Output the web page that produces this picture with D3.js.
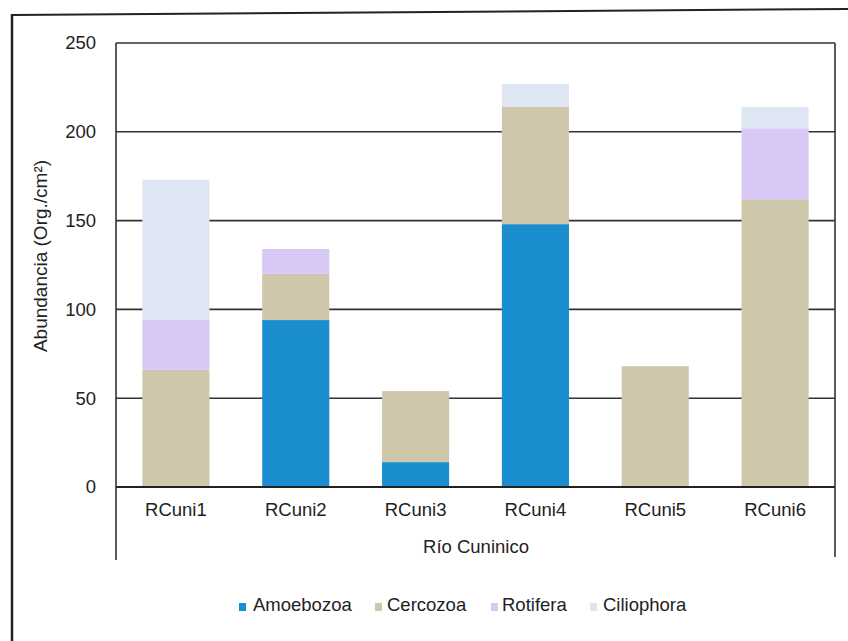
<!DOCTYPE html>
<html>
<head>
<meta charset="utf-8">
<script src="https://cdn.jsdelivr.net/npm/d3@7"></script>
<style>
  html, body { margin: 0; padding: 0; background: #fff; }
  svg { display: block; }
  text { font-family: "Liberation Sans", Arial, sans-serif; fill: #222; }
</style>
</head>
<body>
<svg id="chart" width="848" height="641"></svg>
<script>
// Sampling sites along the Cuninico river
const sites = ["RCuni1", "RCuni2", "RCuni3", "RCuni4", "RCuni5", "RCuni6"];
// Abundance per group (Org./cm²), stacked bottom to top
const groups = ["Amoebozoa", "Cercozoa", "Rotifera", "Ciliophora"];
const amoebozoa  = [0, 94, 14, 148, 0, 0];
const cercozoa   = [66, 26, 40, 66, 68, 162];
const rotifera   = [28, 14, 0, 0, 0, 40];
const ciliophora = [79, 0, 0, 13, 0, 12];
const yTicks = [0, 50, 100, 150, 200, 250];
const colors = ["#1a8ecf", "#cec7ab", "#d8c8f5", "#dee6f4"];

const rows = sites.map((s, i) => ({
  site: s,
  Amoebozoa: amoebozoa[i],
  Cercozoa: cercozoa[i],
  Rotifera: rotifera[i],
  Ciliophora: ciliophora[i]
}));

const svg = d3.select("#chart");
const m = { left: 116, top: 43, right: 835, bottom: 487 };
const FONT = "18.5px";

const x = d3.scaleBand().domain(sites).range([m.left, m.right]).paddingInner(0.44).paddingOuter(0.22);
const y = d3.scaleLinear().domain([0, 250]).range([m.bottom, m.top]);
const color = d3.scaleOrdinal().domain(groups).range(colors);

// outer frame (top and left edges)
svg.append("line").attr("x1", 12).attr("x2", 848).attr("y1", 15).attr("y2", 9)
  .attr("stroke", "#222").attr("stroke-width", 2);
svg.append("line").attr("x1", 12).attr("x2", 12).attr("y1", 14).attr("y2", 641)
  .attr("stroke", "#222").attr("stroke-width", 2.5);

// horizontal gridlines
svg.append("g").selectAll("line").data(yTicks).join("line")
  .attr("x1", m.left).attr("x2", m.right)
  .attr("y1", d => y(d)).attr("y2", d => y(d))
  .attr("stroke", "#333").attr("stroke-width", 1.6);

// stacked bars
const stack = d3.stack().keys(groups)(rows);
svg.append("g").selectAll("g").data(stack).join("g")
  .attr("fill", d => color(d.key))
  .selectAll("rect").data(d => d).join("rect")
  .attr("x", d => x(d.data.site))
  .attr("width", x.bandwidth())
  .attr("y", d => y(d[1]))
  .attr("height", d => y(d[0]) - y(d[1]));

// baseline redrawn over bars
svg.append("line").attr("x1", m.left).attr("x2", m.right)
  .attr("y1", y(0)).attr("y2", y(0)).attr("stroke", "#222").attr("stroke-width", 2);

// plot frame sides, extended down to enclose the category labels
svg.append("line").attr("x1", m.left).attr("x2", m.left).attr("y1", m.top).attr("y2", 560)
  .attr("stroke", "#333").attr("stroke-width", 1.6);
svg.append("line").attr("x1", m.right).attr("x2", m.right).attr("y1", m.top).attr("y2", 557)
  .attr("stroke", "#333").attr("stroke-width", 1.6);

// y axis tick labels
const yAxis = d3.axisLeft(y).tickValues(yTicks).tickSize(0).tickPadding(20);
const gy = svg.append("g").attr("transform", `translate(${m.left},0)`).call(yAxis);
gy.select(".domain").remove();
gy.selectAll("text").style("font-size", FONT).attr("fill", "#222")
  .style("font-family", "'Liberation Sans', Arial, sans-serif");

// x axis category labels
const xAxis = d3.axisBottom(x).tickSize(0).tickPadding(16);
const gx = svg.append("g").attr("transform", `translate(0,${y(0)})`).call(xAxis);
gx.select(".domain").remove();
gx.selectAll("text").style("font-size", FONT).attr("fill", "#222")
  .style("font-family", "'Liberation Sans', Arial, sans-serif");

// axis titles
svg.append("text").attr("x", 476).attr("y", 553).attr("text-anchor", "middle")
  .style("font-size", FONT).text("Río Cuninico");
svg.append("text")
  .attr("transform", "translate(47,256) rotate(-90)")
  .attr("text-anchor", "middle")
  .style("font-size", "19px").text("Abundancia (Org./cm²)");

// legend
const legendX = [239, 375, 491, 590];
const legendGap = [14, 12, 11, 13];
const lg = svg.append("g").selectAll("g").data(groups).join("g")
  .attr("transform", (d, i) => `translate(${legendX[i]},611)`);
lg.append("rect").attr("x", 0).attr("y", -8).attr("width", 7).attr("height", 8)
  .attr("fill", d => color(d));
lg.append("text").attr("x", (d, i) => legendGap[i]).attr("y", 0)
  .style("font-size", FONT).text(d => d);
</script>
</body>
</html>
